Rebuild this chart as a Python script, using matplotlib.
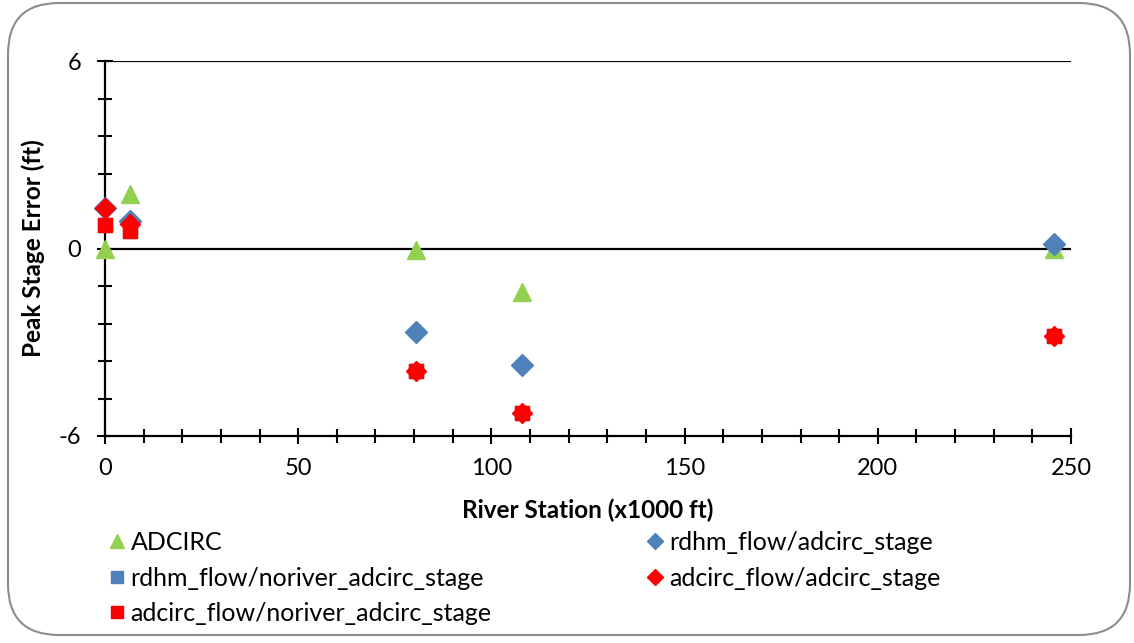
import matplotlib
matplotlib.use("Agg")
import matplotlib.pyplot as plt
from matplotlib.patches import FancyBboxPatch
from matplotlib.lines import Line2D
from matplotlib.ticker import MultipleLocator, FuncFormatter

plt.rcParams['font.family'] = ['Lato', 'DejaVu Sans']

# Data
adcirc_x = [0, 6.5, 80.5, 108, 245.5]
adcirc_y = [0.0, 1.73, -0.05, -1.38, -0.03]

rdhm_adcirc_x = [0, 6.5, 80.5, 108, 245.5]
rdhm_adcirc_y = [1.29, 0.87, -2.66, -3.72, 0.13]

rdhm_noriver_x = [0, 6.5, 80.5, 108, 245.5]
rdhm_noriver_y = [0.75, 0.56, -3.91, -5.26, -2.79]

adcirc_adcirc_x = [0, 6.5, 80.5, 108, 245.5]
adcirc_adcirc_y = [1.29, 0.8, -3.91, -5.26, -2.79]

adcirc_noriver_x = [0, 6.5, 80.5, 108, 245.5]
adcirc_noriver_y = [0.75, 0.56, -3.91, -5.26, -2.79]

labels = ["ADCIRC", "rdhm_flow/adcirc_stage", "rdhm_flow/noriver_adcirc_stage",
          "adcirc_flow/adcirc_stage", "adcirc_flow/noriver_adcirc_stage"]

green = "#92D050"
blue = "#4F81BD"
red = "#FF0000"

W, H = 1134, 643
fig = plt.figure(figsize=(W / 100, H / 100), dpi=100)
ax = fig.add_axes([105 / W, 1 - 436 / H, (1071 - 105) / W, (436 - 61) / H])

# border
border = FancyBboxPatch((8 / W, 8 / H), (1130 - 8) / W, (640 - 8) / H,
                        boxstyle="round,pad=0,rounding_size=0.045",
                        transform=fig.transFigure, facecolor="white",
                        edgecolor="#8C8C8C", linewidth=1.5, zorder=-10,
                        mutation_aspect=W / H)
fig.patches.append(border)

ax.set_xlim(0, 250)
ax.set_ylim(-6, 6)
ax.patch.set_alpha(0)

for y in [6, 0]:
    ax.axhline(y, color="black", lw=1.6, zorder=1)

ax.plot(adcirc_x, adcirc_y, linestyle="none", marker="^", ms=13, color=green, mec=green, zorder=3, clip_on=False)
ax.plot(rdhm_adcirc_x, rdhm_adcirc_y, linestyle="none", marker="D", ms=11, color=blue, mec=blue, zorder=4, clip_on=False)
ax.plot(rdhm_noriver_x, rdhm_noriver_y, linestyle="none", marker="s", ms=10, color=blue, mec=blue, zorder=5, clip_on=False)
ax.plot(adcirc_adcirc_x, adcirc_adcirc_y, linestyle="none", marker="D", ms=10.5, color=red, mec=red, zorder=6, clip_on=False)
ax.plot(adcirc_noriver_x, adcirc_noriver_y, linestyle="none", marker="s", ms=10, color=red, mec=red, zorder=7, clip_on=False)

for side in ["top", "right"]:
    ax.spines[side].set_visible(False)
ax.spines["left"].set_linewidth(1.6)
ax.spines["bottom"].set_linewidth(1.6)
ax.spines["left"].set_zorder(2)

ax.xaxis.set_major_locator(MultipleLocator(50))
ax.xaxis.set_minor_locator(MultipleLocator(10))
ax.yaxis.set_major_locator(MultipleLocator(6))
ax.yaxis.set_minor_locator(MultipleLocator(1.2))
ax.tick_params(axis="both", which="both", direction="inout", width=1.5, color="black")
ax.tick_params(axis="both", which="major", length=12, labelsize=17)
ax.tick_params(axis="both", which="minor", length=10)
ax.tick_params(axis="x", which="major", pad=10)
ax.tick_params(axis="y", which="major", pad=11)
ax.yaxis.set_major_formatter(FuncFormatter(lambda v, p: f"{v:.0f}"))

ax.set_xlabel("River Station (x1000 ft)", fontsize=17.5, fontweight="bold", labelpad=14)
ax.set_ylabel("Peak Stage Error (ft)", fontsize=17.5, fontweight="bold", labelpad=10)

handles = [
    Line2D([], [], linestyle="none", marker="^", ms=10, color=green),
    Line2D([], [], linestyle="none", marker="s", ms=8, color=blue),
    Line2D([], [], linestyle="none", marker="s", ms=8, color=red),
    Line2D([], [], linestyle="none", marker="D", ms=8, color=blue),
    Line2D([], [], linestyle="none", marker="D", ms=8, color=red),
]
hl = [labels[0], labels[2], labels[4], labels[1], labels[3]]
leg = fig.legend(handles, hl, ncol=2, loc="upper left",
                 bbox_to_anchor=(98 / W, 1 - 521 / H), frameon=False,
                 fontsize=18, handlelength=0.7, handletextpad=0.2,
                 columnspacing=6.2, labelspacing=0.5, borderaxespad=0)

fig.savefig("out.png", dpi=100)
